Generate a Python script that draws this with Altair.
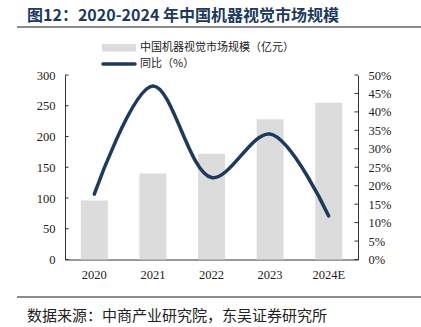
import altair as alt
import pandas as pd

years = ["2020", "2021", "2022", "2023", "2024E"]
market = [96, 140, 172, 228, 255]
yoy = [17.7, 47.0, 22.2, 34.0, 11.8]
left_ticks = [0, 50, 100, 150, 200, 250, 300]
right_ticks = [0, 5, 10, 15, 20, 25, 30, 35, 40, 45, 50]

title_text = "图12：2020-2024 年中国机器视觉市场规模"
legend_bar = "中国机器视觉市场规模（亿元）"
legend_line = "同比（%）"
source_text = "数据来源：中商产业研究院，东吴证券研究所"

df = pd.DataFrame({"year": years, "market": market, "yoy": yoy})
lt = pd.DataFrame({"v": left_ticks})
rt = pd.DataFrame({"v": right_ticks})

W, H = 293, 184.5
NAVY = "#1c3a5e"
SERIF = "'Liberation Serif', 'DejaVu Serif', serif"
CJK = "Noto Sans CJK SC"

xenc = alt.X("year:N", sort=years, title=None,
             scale=alt.Scale(paddingInner=0, paddingOuter=0),
             axis=alt.Axis(labelAngle=0, ticks=False, labelPadding=9, labelFont=SERIF,
                           labelFontSize=12.5, labelColor="#222", domainColor="#333",
                           domainWidth=1))

left_axis = alt.Axis(values=left_ticks, ticks=False, grid=False, labelPadding=10,
                     labelFont=SERIF, labelFontSize=12.5, labelColor="#222",
                     domainColor="#333")
right_axis = alt.Axis(orient="right", values=right_ticks, ticks=False, grid=False,
                      labelPadding=10, labelFont=SERIF, labelFontSize=12.5,
                      labelColor="#222", domainColor="#333",
                      labelExpr="datum.value + '%'")

bars = alt.Chart(df).mark_bar(color="#dcdcdc", size=27).encode(
    x=xenc,
    y=alt.Y("market:Q", title=None,
            scale=alt.Scale(domain=[0, 300], nice=False), axis=left_axis),
)
lticks = alt.Chart(lt).mark_rule(color="#333").encode(
    y=alt.Y("v:Q", title=None, scale=alt.Scale(domain=[0, 300], nice=False), axis=left_axis),
    x=alt.value(0), x2=alt.value(3.5))
left = alt.layer(bars, lticks).resolve_scale(y="shared")

line = alt.Chart(df).mark_line(color=NAVY, strokeWidth=3.5, interpolate="catmull-rom",
                               strokeCap="round").encode(
    x=alt.X("year:N", sort=years),
    y=alt.Y("yoy:Q", title=None,
            scale=alt.Scale(domain=[0, 50], nice=False), axis=right_axis),
)
rticks = alt.Chart(rt).mark_rule(color="#333").encode(
    y=alt.Y("v:Q", title=None, scale=alt.Scale(domain=[0, 50], nice=False), axis=right_axis),
    x=alt.value(W - 3.5), x2=alt.value(W))
right = alt.layer(line, rticks).resolve_scale(y="shared")

one = pd.DataFrame({"k": [0]})
def txt(s, x, y, size, color="#222", weight="normal", font=CJK):
    return alt.Chart(pd.DataFrame({"t": [s]})).mark_text(
        align="left", baseline="middle", fontSize=size, color=color,
        fontWeight=weight, font=font).encode(x=alt.value(x), y=alt.value(y), text="t:N")

title = txt(title_text, -38, -59, 16, NAVY, "bold")
top_rule = alt.Chart(one).mark_rule(color="#8c8c8c", strokeWidth=2).encode(
    x=alt.value(-48), x2=alt.value(356), y=alt.value(-48))
bot_rule = alt.Chart(one).mark_rule(color="#8c8c8c", strokeWidth=2).encode(
    x=alt.value(-48), x2=alt.value(356), y=alt.value(222))
src = txt(source_text, -38, 241, 15, "#222")

sw_bar = alt.Chart(one).mark_rect(color="#dcdcdc").encode(
    x=alt.value(37), x2=alt.value(71), y=alt.value(-31), y2=alt.value(-23.5))
sw_line = alt.Chart(one).mark_rule(color=NAVY, strokeWidth=3.5, strokeCap="round").encode(
    x=alt.value(38), x2=alt.value(70), y=alt.value(-11))
lg1 = txt(legend_bar, 75, -27.5, 11, "#222")
lg2 = txt(legend_line, 75, -11, 11, "#222")

chart = alt.layer(left, right, title, top_rule, bot_rule, src, sw_bar, sw_line, lg1, lg2).resolve_scale(
    y="independent"
).properties(
    width=W, height=H,
    autosize=alt.AutoSizeParams(type="none"),
    padding={"left": 65, "top": 75, "right": 63, "bottom": 67.5},
    background="white",
).configure_view(stroke=None)

chart.save("out.html", embed_options={"renderer": "svg", "actions": False})
